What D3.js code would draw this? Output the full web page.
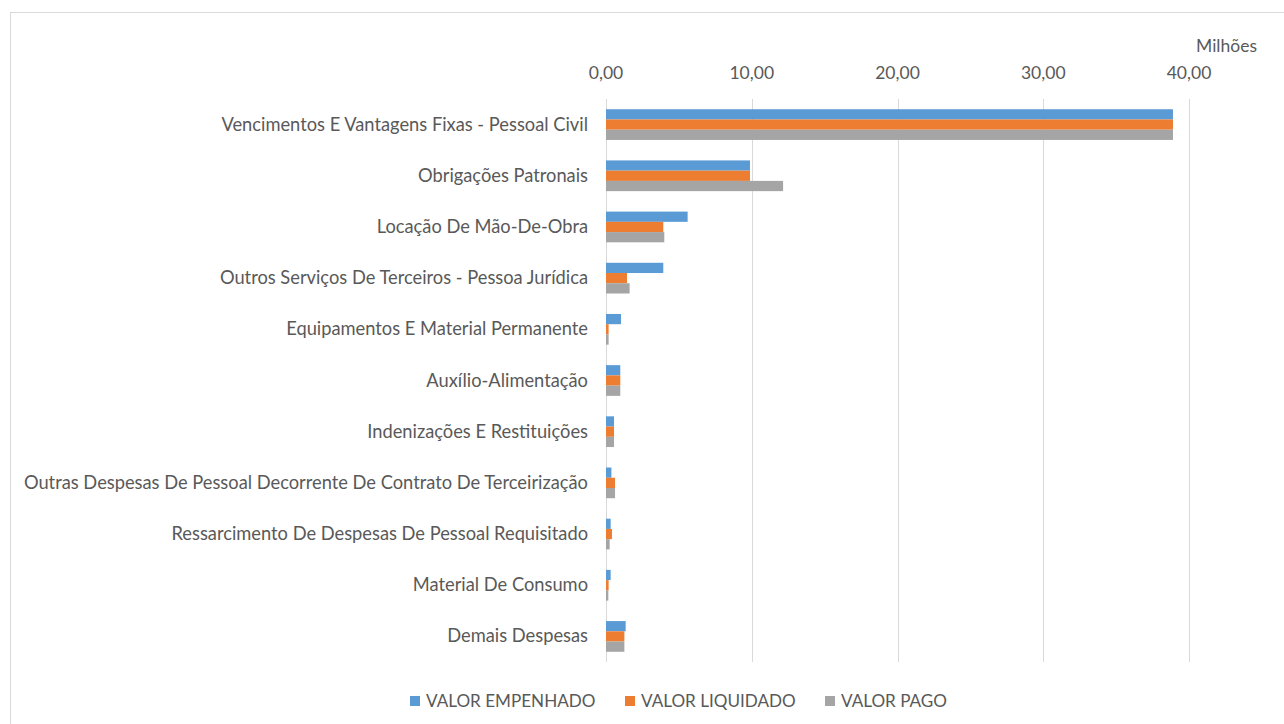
<!DOCTYPE html>
<html><head><meta charset="utf-8">
<script src="https://cdn.jsdelivr.net/npm/d3@7"></script>
<style>body{margin:0;background:#fff}svg{display:block}text{font-family:Lato,sans-serif;fill:#595959}</style>
</head><body>
<script>
const categories = ["Vencimentos E Vantagens Fixas - Pessoal Civil","Obrigações Patronais","Locação De Mão-De-Obra","Outros Serviços De Terceiros - Pessoa Jurídica","Equipamentos E Material Permanente","Auxílio-Alimentação","Indenizações E Restituições","Outras Despesas De Pessoal Decorrente De Contrato De Terceirização","Ressarcimento De Despesas De Pessoal Requisitado","Material De Consumo","Demais Despesas"];
const seriesNames = ["VALOR EMPENHADO","VALOR LIQUIDADO","VALOR PAGO"];
const empenhado = [38.9, 9.88, 5.6, 3.93, 1.03, 0.98, 0.55, 0.37, 0.32, 0.32, 1.35];
const liquidado = [38.9, 9.88, 3.93, 1.44, 0.18, 0.98, 0.55, 0.62, 0.41, 0.18, 1.26];
const pago = [38.9, 12.15, 4.0, 1.62, 0.18, 0.98, 0.55, 0.62, 0.25, 0.16, 1.26];
const ticks = [0, 10, 20, 30, 40];
const colors = ["#5B9BD5", "#ED7D31", "#A5A5A5"];

const W = 1284, H = 724;
const svg = d3.select("body").append("svg").attr("width", W).attr("height", H);
svg.append("rect").attr("x", 10.5).attr("y", 12.5).attr("width", W).attr("height", H)
  .attr("fill", "#fff").attr("stroke", "#d9d9d9").attr("stroke-width", 1);

const x = d3.scaleLinear().domain([0, 40]).range([606, 1189]);
const y = d3.scaleBand().domain(categories).range([99, 662]).paddingInner(0.4).paddingOuter(0.2);
const ys = d3.scaleBand().domain(seriesNames).range([0, y.bandwidth()]);

svg.append("g").selectAll("line").data(ticks).join("line")
  .attr("x1", d => Math.round(x(d)) + 0.5).attr("x2", d => Math.round(x(d)) + 0.5)
  .attr("y1", 99).attr("y2", 662).attr("stroke", "#d9d9d9").attr("stroke-width", 1);

const fmt = d => d3.format(".2f")(d).replace(".", ",");
svg.append("g").selectAll("text").data(ticks).join("text")
  .attr("x", d => x(d)).attr("y", 79).attr("text-anchor", "middle")
  .attr("font-size", 17.5).text(fmt);
svg.append("text").attr("x", 1226.5).attr("y", 52).attr("text-anchor", "middle").attr("font-size", 17.5).text("Milhões");

svg.append("g").selectAll("text").data(categories).join("text")
  .attr("x", 588).attr("y", d => y(d) + y.bandwidth() / 2 + 6)
  .attr("text-anchor", "end").attr("font-size", 18.3).text(d => d);

const data = [empenhado, liquidado, pago];
data.forEach((vals, si) => {
  svg.append("g").selectAll("rect").data(vals).join("rect")
    .attr("x", x(0)).attr("y", (d, i) => y(categories[i]) + ys(seriesNames[si]))
    .attr("width", d => x(d) - x(0)).attr("height", ys.bandwidth())
    .attr("fill", colors[si]);
});

const legX = [410, 625, 825];
const lg = svg.append("g");
seriesNames.forEach((n, i) => {
  lg.append("rect").attr("x", legX[i]).attr("y", 696).attr("width", 10).attr("height", 10).attr("fill", colors[i]);
  lg.append("text").attr("x", legX[i] + 16).attr("y", 707).attr("font-size", 17.1).text(n);
});
</script>
</body></html>
